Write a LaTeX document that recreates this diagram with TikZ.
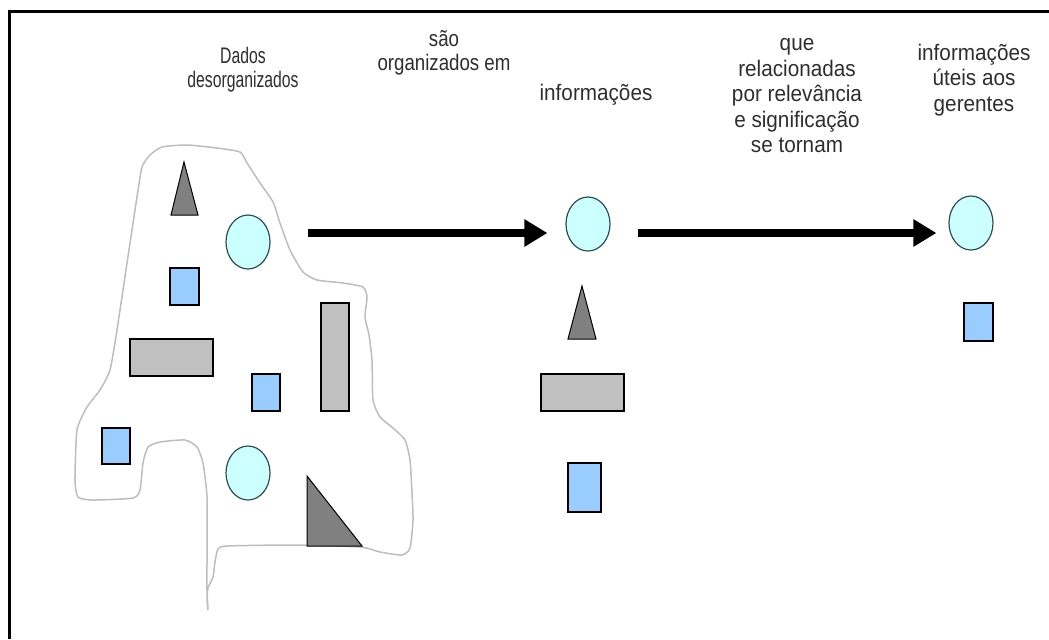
\documentclass[tikz,border=0pt]{standalone}
\usepackage{fontspec}
\setmainfont{Liberation Sans}
\newfontfamily\dsfont[FakeStretch=0.92]{Liberation Sans}
\newfontfamily\dsmidfont[FakeStretch=0.83]{Liberation Sans}
\newfontfamily\dsnarrowfont[FakeStretch=0.70]{Liberation Sans}
\usetikzlibrary{shapes.geometric,arrows.meta}
\definecolor{dscyan}{HTML}{CCFFFF}
\definecolor{dsblue}{HTML}{99CCFF}
\definecolor{dsgray}{HTML}{C0C0C0}
\definecolor{dsdark}{HTML}{808080}
\definecolor{dsline}{HTML}{BDBDBD}
\definecolor{dsedge}{HTML}{2F4F4F}
\tikzset{
  circ/.style={ellipse, draw=dsedge, line width=0.6pt, fill=dscyan, minimum width=22pt, minimum height=27pt, inner sep=0pt},
  bluebox/.style={draw=black, line width=0.8pt, fill=dsblue, inner sep=0pt},
  graybox/.style={draw=black, line width=0.9pt, fill=dsgray, inner sep=0pt},
  darktri/.style={draw=black, line width=0.5pt, fill=dsdark, line join=miter},
  txt/.style={align=center, text=black!82, inner sep=0pt, font=\dsfont\fontsize{11.25pt}{12.75pt}\selectfont},
  midtxt/.style={txt, font=\dsmidfont\fontsize{11.25pt}{12pt}\selectfont},
  smalltxt/.style={txt, font=\dsnarrowfont\fontsize{11.25pt}{12pt}\selectfont},
  bigarrow/.style={line width=3.6pt, -{Triangle[length=11.5pt,width=13pt]}}
}
\begin{document}
\begin{tikzpicture}[x=0.5pt, y=-0.5pt]
  \useasboundingbox (0,0) rectangle (1049,639);
  \draw[line width=1.5pt] (9,639) -- (9,11) -- (1049,11);

  % raw data
  \draw[dsline, line width=0.75pt] plot[smooth cycle, tension=0.35] coordinates {
    (142,167) (150,155) (162,147) (187,145) (217,148) (240,152) (247,163) (260,183)
    (273,202) (280,223) (290,250) (303,272) (317,280) (343,283) (363,287) (367,297)
    (365,317) (369,335) (372,360) (373,400) (380,417) (393,428) (405,440) (410,460)
    (412,493) (413,520) (410,548) (402,555) (380,552) (360,547) (293,545) (227,546)
    (218,549) (215,562) (213,577) (208,588) (207,598) (208,610) (207,590) (207,563)
    (207,497) (203,463) (197,447) (185,440) (160,442) (148,447) (143,463) (140,490)
    (133,498) (93,500) (78,497) (75,480) (77,430) (87,407) (100,390) (110,370)
    (117,330) (127,263) (137,197)};
  \draw[darktri] (184,162) -- (171,215) -- (198,215) -- cycle;
  \node[circ] (dcirc1) at (248,242) {};
  \node[bluebox, minimum width=14.5pt, minimum height=18.5pt] (dbox1) at (184.5,286.5) {};
  \node[graybox, minimum width=41.5pt, minimum height=18.5pt] (dbar1) at (171.5,357.5) {};
  \node[bluebox, minimum width=14pt, minimum height=18.5pt] (dbox2) at (266,392.5) {};
  \node[graybox, minimum width=14pt, minimum height=54pt] (dbar2) at (335,357) {};
  \node[bluebox, minimum width=14pt, minimum height=18pt] (dbox3) at (116,446) {};
  \node[circ] (dcirc2) at (248,473) {};
  \draw[darktri] (307,476) -- (307,546) -- (362,546) -- cycle;

  % organized information
  \node[circ] (info) at (588,224) {};
  \draw[darktri] (582,286) -- (568,339) -- (596,339) -- cycle;
  \node[graybox, minimum width=41.5pt, minimum height=18.5pt] (ibar) at (582.5,392.5) {};
  \node[bluebox, minimum width=16.5pt, minimum height=24.5pt] (ibox) at (584.5,487.5) {};

  % useful information
  \node[circ] (useful) at (971,223) {};
  \node[bluebox, minimum width=14.5pt, minimum height=19pt] (ubox) at (978.5,322) {};

  \coordinate (src) at (308,233);
  \draw[bigarrow, shorten >=9pt] (src) -- (src -| info.west);
  \draw[bigarrow, shorten <=13.5pt, shorten >=6pt] (info.east |- src) -- (src -| useful.west);

  \node[smalltxt] (tdados) at (243,70) {Dados\\desorganizados};
  \node[midtxt] (tsao) at (444,53) {são\\organizados em};
  \node[txt] (tinfo) at (596,95) {informações};
  \node[txt] (tque) at (797,96) {que\\relacionadas\\por relevância\\e significação\\se tornam};
  \node[txt] (tuteis) at (974,80) {informações\\úteis aos\\gerentes};
\end{tikzpicture}
\end{document}
